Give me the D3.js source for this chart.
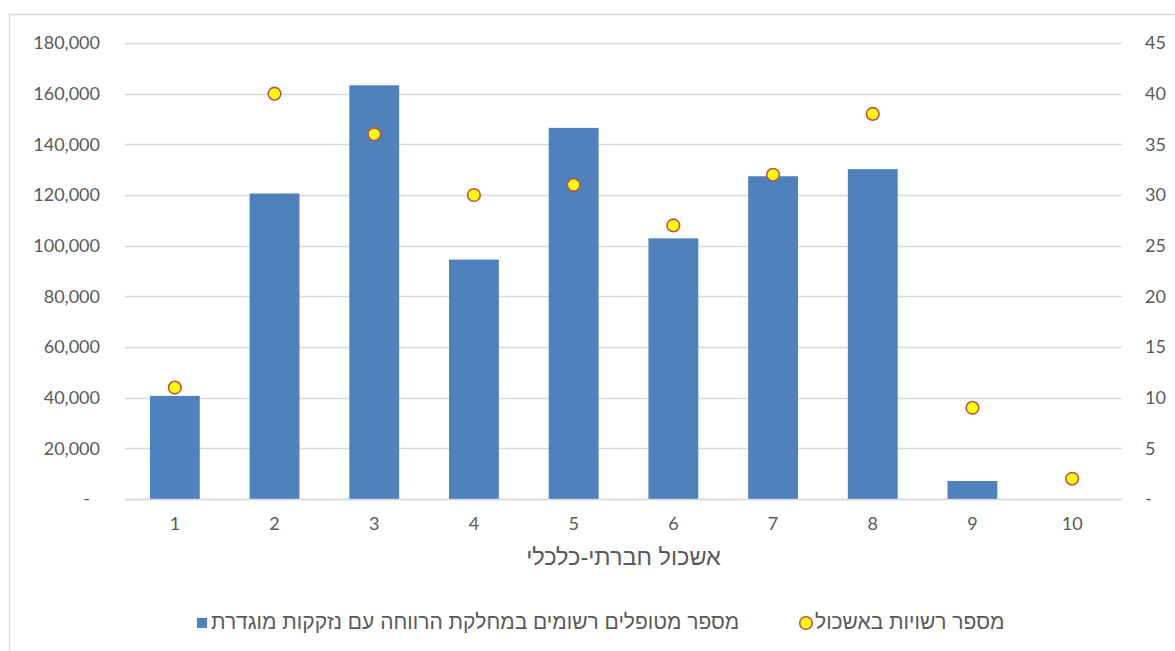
<!DOCTYPE html>
<html lang="he">
<head>
<meta charset="utf-8">
<script src="https://cdnjs.cloudflare.com/ajax/libs/d3/7.8.5/d3.min.js"></script>
<style>
  html, body { margin: 0; padding: 0; background: #fff; }
  svg { display: block; }
  .num { font-family: Lato, "Open Sans", "Liberation Sans", sans-serif; fill: #595959; }
  .heb { font-family: "Liberation Sans", "DejaVu Sans", sans-serif; fill: #595959; }
</style>
</head>
<body>
<svg id="chart" width="1175" height="651"></svg>
<script>
// Socio-economic cluster (1-10)
const clusters = ["1", "2", "3", "4", "5", "6", "7", "8", "9", "10"];
// Registered welfare clients with a defined need, per cluster
const clients = [40700, 120600, 163300, 94500, 146500, 102900, 127400, 130200, 7100, 0];
// Number of local authorities in each cluster
const authorities = [11, 40, 36, 30, 31, 27, 32, 38, 9, 2];

const leftTicks = [0, 20000, 40000, 60000, 80000, 100000, 120000, 140000, 160000, 180000];
const rightTicks = [0, 5, 10, 15, 20, 25, 30, 35, 40, 45];

const xTitle = "אשכול חברתי-כלכלי";
const barLegend = "מספר מטופלים רשומים במחלקת הרווחה עם נזקקות מוגדרת";
const dotLegend = "מספר רשויות באשכול";

const barColor = "#4f81bd";
const dotFill = "#ffff00";
const dotStroke = "#c0504d";
const gridColor = "#d9d9d9";

const svg = d3.select("#chart");
const plot = { left: 125, right: 1122, top: 43, bottom: 499 };

// outer chart frame
svg.append("rect")
  .attr("x", 9.5).attr("y", 14.5)
  .attr("width", 1300).attr("height", 800)
  .attr("fill", "none").attr("stroke", gridColor).attr("stroke-width", 1.5);

const x = d3.scaleBand().domain(clusters)
  .range([plot.left, plot.right]).paddingInner(0.5).paddingOuter(0.25);
const yL = d3.scaleLinear().domain([0, 180000]).range([plot.bottom, plot.top]);
const yR = d3.scaleLinear().domain([0, 45]).range([plot.bottom, plot.top]);

// horizontal gridlines
svg.append("g").selectAll("line").data(leftTicks).join("line")
  .attr("x1", plot.left).attr("x2", plot.right)
  .attr("y1", d => Math.round(yL(d)) + 0.5).attr("y2", d => Math.round(yL(d)) + 0.5)
  .attr("stroke", gridColor).attr("stroke-width", 1.4);

const fmtL = d => d === 0 ? "-" : d3.format(",")(d);
const fmtR = d => d === 0 ? "-" : String(d);

// left axis
const gL = svg.append("g").attr("transform", `translate(${plot.left},0)`)
  .call(d3.axisLeft(yL).tickValues(leftTicks).tickFormat(fmtL).tickSize(0).tickPadding(25));
gL.select(".domain").remove();
gL.selectAll("text").attr("class", "num").attr("font-size", 18)
  .attr("dx", d => d === 0 ? -10 : 0);

// right axis
const gR = svg.append("g").attr("transform", `translate(${plot.right},0)`)
  .call(d3.axisRight(yR).tickValues(rightTicks).tickFormat(fmtR).tickSize(0).tickPadding(23));
gR.select(".domain").remove();
gR.selectAll("text").attr("class", "num").attr("font-size", 18);

// bottom axis labels
const gB = svg.append("g").attr("transform", `translate(0,${plot.bottom})`)
  .call(d3.axisBottom(x).tickSize(0).tickPadding(18));
gB.select(".domain").remove();
gB.selectAll("text").attr("class", "num").attr("font-size", 18);

// bars
svg.append("g").selectAll("rect").data(clients).join("rect")
  .attr("x", (d, i) => x(clusters[i]))
  .attr("y", d => yL(d))
  .attr("width", x.bandwidth())
  .attr("height", d => yL(0) - yL(d))
  .attr("fill", barColor);

// baseline
svg.append("line")
  .attr("x1", plot.left).attr("x2", plot.right)
  .attr("y1", plot.bottom + 0.5).attr("y2", plot.bottom + 0.5)
  .attr("stroke", gridColor).attr("stroke-width", 1.4);

// markers on secondary axis
svg.append("g").selectAll("circle").data(authorities).join("circle")
  .attr("cx", (d, i) => x(clusters[i]) + x.bandwidth() / 2)
  .attr("cy", d => yR(d))
  .attr("r", 6.3)
  .attr("fill", dotFill).attr("stroke", dotStroke).attr("stroke-width", 1.6);

// x axis title
svg.append("text").attr("class", "heb")
  .attr("x", (plot.left + plot.right) / 2).attr("y", 565)
  .attr("text-anchor", "middle").attr("font-size", 23.5)
  .text(xTitle);

// legend
const lg = svg.append("g");
lg.append("rect").attr("x", 197).attr("y", 618).attr("width", 10).attr("height", 10).attr("fill", barColor);
lg.append("text").attr("class", "heb").attr("x", 211).attr("y", 629)
  .attr("font-size", 21).attr("text-anchor", "start").attr("direction", "ltr").text(barLegend);
lg.append("circle").attr("cx", 806).attr("cy", 623).attr("r", 6.3)
  .attr("fill", dotFill).attr("stroke", dotStroke).attr("stroke-width", 1.6);
lg.append("text").attr("class", "heb").attr("x", 815).attr("y", 629)
  .attr("font-size", 21).attr("text-anchor", "start").attr("direction", "ltr").text(dotLegend);
</script>
</body>
</html>
